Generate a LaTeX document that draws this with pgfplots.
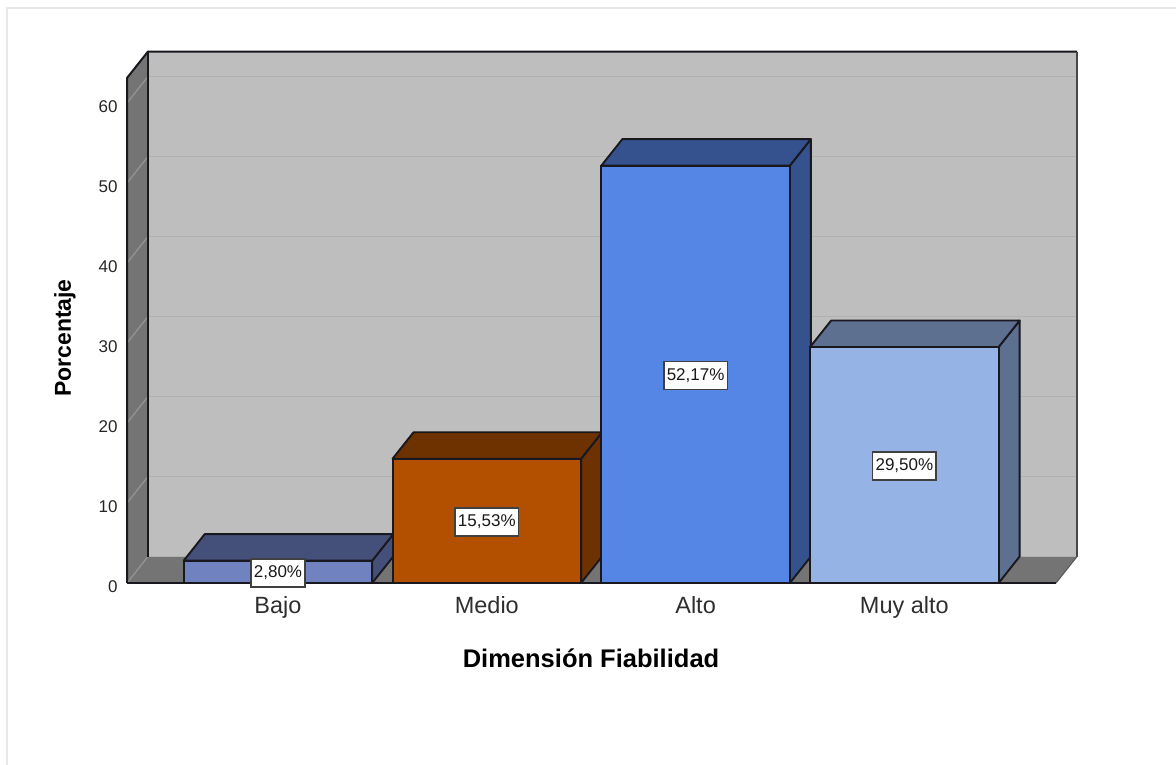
\documentclass[border=0pt]{standalone}
\usepackage{fontspec}
\setmainfont{Liberation Sans}
\usepackage{pgfplots}
\usepackage{pgfplotstable}
\pgfplotsset{compat=1.18}

\definecolor{wallback}{RGB}{190,190,190}
\definecolor{wallside}{RGB}{116,116,116}
\definecolor{gridback}{RGB}{177,177,177}
\definecolor{gridside}{RGB}{150,150,150}
\definecolor{edge}{RGB}{24,24,30}
\definecolor{bajoF}{RGB}{112,130,192}
\definecolor{bajoD}{RGB}{69,80,122}
\definecolor{medioF}{RGB}{178,80,0}
\definecolor{medioD}{RGB}{110,50,0}
\definecolor{altoF}{RGB}{85,133,229}
\definecolor{altoD}{RGB}{53,82,143}
\definecolor{muyF}{RGB}{149,180,229}
\definecolor{muyD}{RGB}{93,112,144}

% Percentage per category of the dimension
\pgfplotstableread{
x v
0 2.80
1 15.53
2 52.17
3 29.50
}\fiabilidad

\newcommand{\xlo}{-0.7232}
\newcommand{\xhi}{3.7261}
\newcommand{\ytop}{63.125}
\newcommand{\dpx}{0.1006}
\newcommand{\dpy}{3.31}
\newcommand{\halfw}{0.4514}

% One prism: side and top faces, then the front bar
\newcommand{\prism}[4]{%
  \pgfmathsetmacro{\xl}{#1-\halfw}
  \pgfmathsetmacro{\xr}{#1+\halfw}
  \pgfmathsetmacro{\xlb}{\xl+\dpx}
  \pgfmathsetmacro{\xrb}{\xr+\dpx}
  \pgfmathsetmacro{\yb}{#2+\dpy}
  \addplot[fill=#4,draw=edge,line width=1.9pt,line join=round] coordinates {(\xr,0) (\xrb,\dpy) (\xrb,\yb) (\xr,#2)} --cycle;
  \addplot[fill=#4,draw=edge,line width=1.9pt,line join=round] coordinates {(\xl,#2) (\xr,#2) (\xrb,\yb) (\xlb,\yb)} --cycle;
  \addplot[ybar,bar shift=0pt,bar width=0.9028,fill=#3,draw=edge,line width=1.9pt] coordinates {(#1,#2)};
}

\newcommand{\gridlevel}[1]{%
  \pgfmathsetmacro{\ya}{#1+\dpy}
  \pgfmathsetmacro{\xa}{\xlo+\dpx}
  \pgfmathsetmacro{\xb}{\xhi+\dpx}
  \addplot[draw=gridback,line width=1.8pt] coordinates {(\xa,\ya) (\xb,\ya)};
  \addplot[draw=gridside,line width=1.2pt] coordinates {(\xlo,#1) (\xa,\ya)};
}

\begin{document}
\begin{tikzpicture}[x=1pt,y=1pt]
\path[use as bounding box] (0,0) rectangle (1176,765);
\draw[color=black!9,line width=1.6pt] (7,0) -- (7,757) -- (1176,757);
\begin{axis}[
  at={(127pt,182pt)},anchor=south west,
  scale only axis,width=929pt,height=505pt,
  xmin=\xlo,xmax=\xhi,ymin=0,ymax=\ytop,
  clip=false,
  axis line style={draw=none},
  tick style={draw=none},
  xtick={0,1,2,3},
  xticklabels={Bajo,Medio,Alto,Muy alto},
  ytick={0,10,20,30,40,50,60},
  /pgf/number format/assume math mode=true,
  x tick label style={font=\fontsize{23.5}{26}\selectfont,color=black!82,yshift=-10pt},
  y tick label style={font=\fontsize{17}{19}\selectfont,color=black!85,yshift=-4pt,xshift=-6pt},
  xlabel={\textbf{Dimensión Fiabilidad}},
  ylabel={\textbf{Porcentaje}},
  xlabel style={font=\fontsize{25.5}{28}\selectfont,at={(axis description cs:0.4995,-0.1485)},anchor=center},
  ylabel style={font=\fontsize{23}{26}\selectfont,at={(axis description cs:-0.0667,0.485)},anchor=center},
]
% Back wall, left wall and floor of the box
\pgfmathsetmacro{\bx}{\xlo+\dpx}
\pgfmathsetmacro{\cx}{\xhi+\dpx}
\pgfmathsetmacro{\ty}{\ytop+\dpy}
\addplot[fill=wallback,draw=none] coordinates {(\bx,\dpy) (\cx,\dpy) (\cx,\ty) (\bx,\ty)} --cycle;
\addplot[fill=wallside,draw=none] coordinates {(\xlo,0) (\bx,\dpy) (\bx,\ty) (\xlo,\ytop)} --cycle;
\addplot[fill=wallside,draw=none] coordinates {(\xlo,0) (\xhi,0) (\cx,\dpy) (\bx,\dpy)} --cycle;
% Gridlines every ten points
\gridlevel{0}
\gridlevel{10}
\gridlevel{20}
\gridlevel{30}
\gridlevel{40}
\gridlevel{50}
\gridlevel{60}
% Box outline
\addplot[draw=edge,line width=2pt,line join=round] coordinates {(\xlo,0) (\xlo,\ytop) (\bx,\ty) (\cx,\ty)};
\addplot[draw=edge!80!white,line width=2pt] coordinates {(\cx,\ty) (\cx,\dpy)};
\addplot[draw=edge,line width=2pt] coordinates {(\bx,\dpy) (\bx,\ty)};
\addplot[draw=edge,line width=2pt] coordinates {(\xlo,0) (\xhi,0)};
\addplot[draw=edge!70!white,line width=1.2pt] coordinates {(\xhi,0) (\cx,\dpy)};
% Bars
\prism{0}{2.80}{bajoF}{bajoD}
\prism{1}{15.53}{medioF}{medioD}
\prism{2}{52.17}{altoF}{altoD}
\prism{3}{29.50}{muyF}{muyD}
% Value labels centred on each bar
\addplot[draw=none,mark=none,
  point meta=explicit,
  nodes near coords,
  every node near coord/.append style={
    anchor=center,yshift=-1pt,fill=white,draw=black!75,line width=1.6pt,
    font=\fontsize{17}{19}\selectfont,text=black!90,
    inner xsep=3pt,inner ysep=0pt,minimum height=28pt},
  nodes near coords={\pgfmathprintnumber[fixed,fixed zerofill,precision=2,use comma,assume math mode=true]{\pgfplotspointmeta}\%},
] table[x=x,y expr=\thisrow{v}/2,meta=v] {\fiabilidad};
\end{axis}
\end{tikzpicture}
\end{document}
